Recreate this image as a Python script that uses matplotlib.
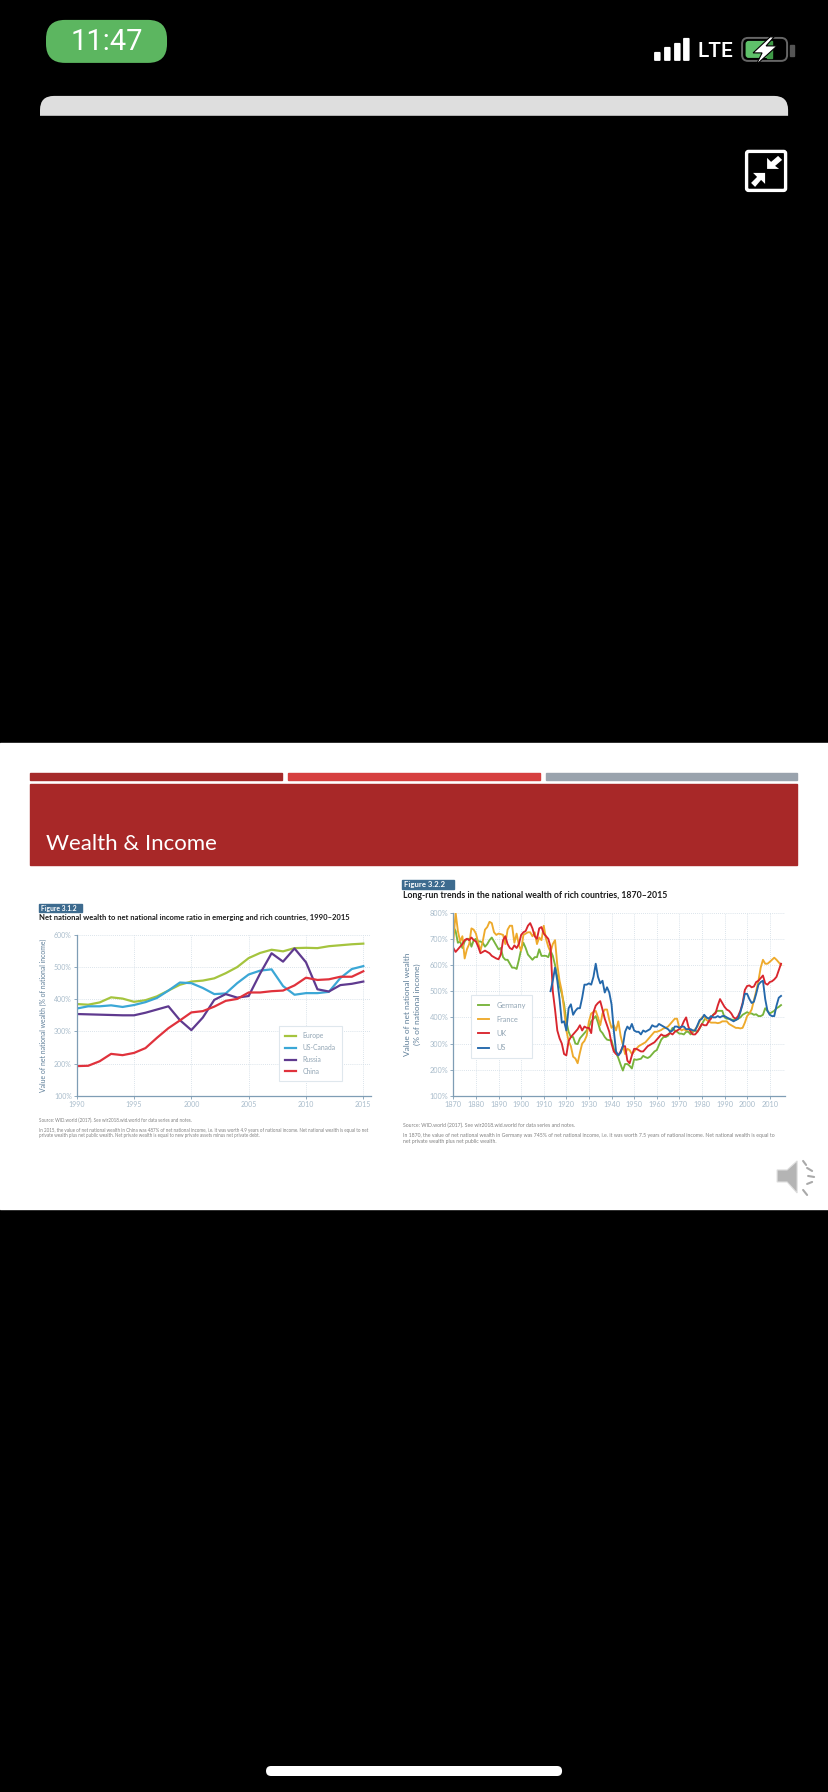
"""Phone screenshot of a slide with two wealth-to-income charts."""

from __future__ import annotations

import matplotlib

matplotlib.use("Agg")

import matplotlib.pyplot as plt  # noqa: E402
from matplotlib.patches import FancyBboxPatch, Polygon, Rectangle  # noqa: E402

W, H = 828, 1792

YEARS_A = list(range(1990, 2016))
EUROPE = [385, 383, 390, 406, 402, 392, 397, 409, 427, 445, 455, 458, 465,
          481, 500, 528, 544, 554, 549, 559, 560, 559, 565, 568, 571, 573]
US_CANADA = [371, 378, 378, 381, 376, 382, 391, 404, 427, 452, 450, 435, 416,
             418, 450, 477, 489, 493, 441, 414, 419, 419, 423, 466, 494, 503]
RUSSIA = [354, 353, 352, 351, 350, 350, 358, 368, 378, 335, 304, 343, 398,
          416, 405, 410, 480, 543, 517, 558, 515, 431, 424, 444, 448, 455]
CHINA = [192, 193, 207, 230, 226, 233, 248, 280, 310, 334, 359, 363, 377,
         395, 401, 421, 421, 425, 427, 443, 467, 460, 462, 470, 470, 487]

YEARS_B = list(range(1870, 2016))
YEARS_US = list(range(1913, 2016))
GERMANY = [745, 730, 685, 690, 665, 690, 700, 700, 670, 695,
           700, 690, 690, 685, 670, 680, 695, 705, 690, 675,
           660, 665, 630, 620, 620, 605, 590, 590, 585, 620,
           660, 685, 665, 640, 630, 620, 630, 630, 660, 635,
           635, 635, 630, 655, 635, 600, 555, 520, 490, 450,
           385, 345, 325, 325, 300, 298, 320, 330, 340, 350,
           365, 385, 395, 405, 380, 350, 340, 325, 315, 313,
           312, 280, 265, 245, 220, 197, 222, 222, 215, 205,
           240, 238, 240, 242, 253, 248, 245, 250, 260, 270,
           275, 295, 315, 325, 325, 330, 345, 360, 350, 345,
           338, 338, 335, 345, 345, 335, 345, 350, 345, 358,
           375, 390, 400, 395, 400, 410, 420, 425, 425, 425,
           400, 395, 395, 392, 390, 390, 395, 400, 410, 415,
           420, 415, 415, 410, 412, 405, 405, 410, 435, 425,
           415, 420, 425, 435, 440, 447]
FRANCE = [690, 800, 730, 690, 710, 625, 660, 680, 740, 735,
          720, 685, 655, 690, 735, 745, 765, 760, 725, 715,
          720, 718, 715, 680, 735, 750, 750, 685, 720, 675,
          655, 715, 720, 725, 725, 710, 725, 680, 705, 695,
          750, 700, 670, 650, 680, 695, 600, 540, 500, 430,
          350, 310, 290, 250, 243, 225, 265, 300, 310, 330,
          385, 415, 420, 425, 400, 370, 415, 430, 430, 390,
          360, 370, 350, 385, 330, 295, 260, 280, 275, 260,
          270, 280, 290, 295, 300, 305, 315, 325, 335, 345,
          345, 348, 352, 358, 360, 365, 375, 385, 395, 395,
          360, 350, 355, 350, 355, 350, 345, 355, 365, 385,
          400, 405, 390, 385, 380, 380, 380, 378, 380, 385,
          385, 385, 375, 370, 365, 360, 360, 358, 360, 380,
          405, 415, 430, 465, 500, 540, 590, 620, 605, 605,
          612, 620, 628, 620, 610, 600]
UK = [665, 650, 660, 670, 680, 695, 700, 695, 705, 695,
      690, 670, 645, 650, 655, 650, 645, 635, 630, 625,
      622, 640, 695, 710, 680, 665, 660, 675, 665, 680,
      715, 725, 730, 750, 760, 740, 710, 700, 740, 745,
      720, 710, 700, 670, 500, 430, 350, 320, 300, 260,
      255, 310, 325, 335, 345, 355, 370, 350, 365, 360,
      360, 340, 420, 445, 455, 462, 430, 395, 370, 345,
      300, 270, 260, 255, 270, 290, 290, 235, 225, 255,
      280, 280, 275, 270, 270, 280, 290, 295, 300, 305,
      315, 325, 335, 330, 330, 335, 340, 335, 345, 350,
      355, 365, 385, 400, 365, 345, 335, 335, 345, 360,
      375, 370, 370, 385, 395, 410, 415, 445, 470, 455,
      440, 430, 425, 415, 400, 395, 405, 425, 455, 505,
      520, 522, 515, 518, 535, 540, 550, 560, 530, 525,
      535, 538, 545, 555, 580, 605]
US = [500, 540, 590, 540, 470, 380, 385,
      350, 435, 450, 410, 425, 435, 435, 475, 525, 525,
      530, 525, 555, 605, 555, 530, 540, 495, 515, 495,
      450, 350, 270, 255, 265, 290, 345, 365, 355, 375,
      350, 345, 345, 335, 350, 345, 350, 355, 370, 365,
      365, 375, 370, 365, 360, 355, 345, 350, 365, 365,
      360, 365, 365, 355, 355, 355, 350, 350, 370, 390,
      395, 410, 400, 395, 405, 400, 400, 405, 400, 405,
      405, 400, 395, 390, 385, 390, 395, 420, 450, 490,
      490, 470, 455, 460, 490, 525, 535, 540, 470, 425,
      410, 405, 405, 445, 475, 482]

TICKS_A = [1990, 1995, 2000, 2005, 2010, 2015]
TICKS_B = list(range(1870, 2011, 10))
PCT_A = [100, 200, 300, 400, 500, 600]
PCT_B = [100, 200, 300, 400, 500, 600, 700, 800]

AXIS = "#7f9db5"
TICK_TEXT = "#a9bccb"
GRID = "#cfdbe4"
LABEL = "#5f7f99"
LEGEND_TEXT = "#93a6b5"
NOTE = "#808080"
FONT = "Lato"


def chart_axes(fig, left, right, top, bottom):
    return fig.add_axes([left / W, 1 - bottom / H, (right - left) / W, (bottom - top) / H],
                        facecolor="none", zorder=2)


def style_chart(ax, xticks, yticks, size):
    for side in ("top", "right"):
        ax.spines[side].set_visible(False)
    for side in ("left", "bottom"):
        ax.spines[side].set_color(AXIS)
        ax.spines[side].set_linewidth(0.9)
    ax.set_xticks(xticks)
    ax.set_yticks(yticks)
    ax.set_yticklabels([f"{v}%" for v in yticks])
    ax.tick_params(axis="both", length=2, width=0.6, color=AXIS, labelcolor=TICK_TEXT,
                   labelsize=size, pad=1.5)
    for label in ax.get_xticklabels() + ax.get_yticklabels():
        label.set_family(FONT)
    ax.grid(True, color=GRID, linewidth=0.6, linestyle=(0, (1, 1.5)))
    ax.set_axisbelow(True)


def add_legend(ax, anchor, size, spacing, handle):
    leg = ax.legend(loc="upper left", bbox_to_anchor=(anchor[0] / W, 1 - anchor[1] / H),
                    bbox_transform=ax.figure.transFigure, frameon=True, fancybox=False,
                    framealpha=1, edgecolor="#dfe7ed", prop={"family": FONT, "size": size},
                    labelcolor=LEGEND_TEXT, labelspacing=spacing, handlelength=handle,
                    handletextpad=1.0, borderpad=0.9, borderaxespad=0)
    leg.get_frame().set_linewidth(0.8)


def draw_phone_chrome(bg):
    bg.add_patch(Rectangle((0, 743), W, 466, color="white"))

    # status bar
    bg.add_patch(FancyBboxPatch((46, 20), 121, 43, boxstyle="round,pad=0,rounding_size=19",
                                fc="#5cb660", ec="none"))
    bg.text(106.5, 42, "11:47", color="white", fontsize=21, family="Roboto",
            ha="center", va="center")
    for x0, top in zip((654, 664, 674, 683), (52, 47, 43, 38)):
        bg.add_patch(FancyBboxPatch((x0, top), 6.5, 61 - top,
                                    boxstyle="round,pad=0,rounding_size=1", fc="white", ec="none"))
    bg.text(715.5, 51, "LTE", color="white", fontsize=15, family="Roboto", fontweight="medium",
            ha="center", va="center")
    bg.add_patch(FancyBboxPatch((742, 38), 45, 23, boxstyle="round,pad=0,rounding_size=6",
                                fc="black", ec="#666666", lw=1.4))
    bg.add_patch(FancyBboxPatch((745.5, 41), 24, 17, boxstyle="round,pad=0,rounding_size=3",
                                fc="#5fc16a", ec="none"))
    bg.add_patch(Rectangle((767, 41), 5, 17, color="#3f9a47"))
    bg.add_patch(Rectangle((790, 45), 4, 11, color="#555555"))
    bg.add_patch(Polygon([(770, 37), (753, 53), (762, 53), (756, 65), (777, 46), (766, 46), (774, 37)],
                         closed=True, fc="white", ec="black", lw=0.8))

    # browser strip
    bg.add_patch(FancyBboxPatch((40, 96), 748, 40, boxstyle="round,pad=0,rounding_size=14",
                                fc="#dedede", ec="none"))
    bg.add_patch(Rectangle((30, 116), 770, 30, color="black"))

    # collapse icon
    bg.add_patch(FancyBboxPatch((746.5, 151.5), 39, 39, boxstyle="round,pad=0,rounding_size=2",
                                fc="black", ec="white", lw=2.4))
    bg.add_patch(Polygon([(767, 169), (767, 158), (771, 162), (778, 156), (782, 160), (775, 166),
                          (779, 169)], closed=True, fc="white", ec="none"))
    bg.add_patch(Polygon([(765, 173), (765, 184), (761, 180), (755, 187), (751, 183), (757, 177),
                          (753, 173)], closed=True, fc="white", ec="none"))

    # home indicator
    bg.add_patch(FancyBboxPatch((266, 1766), 296, 10, boxstyle="round,pad=0,rounding_size=5",
                                fc="white", ec="none"))


def draw_slide_header(bg):
    bg.add_patch(Rectangle((30, 773.5), 252, 7, color="#a52a2a"))
    bg.add_patch(Rectangle((288, 773.5), 252, 7, color="#d63f3f"))
    bg.add_patch(Rectangle((546, 773.5), 251, 7, color="#9aa3ad"))
    bg.add_patch(Rectangle((30, 784.5), 767, 81, color="#a82828"))
    bg.text(46, 850, "Wealth & Income", color="white", fontsize=16, family="Lato",
            ha="left", va="baseline")


def draw_speaker(bg):
    bg.add_patch(Polygon([(777, 1170), (787, 1170), (797, 1161), (797, 1193), (787, 1182), (777, 1182)],
                         closed=True, fc="#b4b4b4", ec="#dddddd", lw=0.8))
    rays = [((803, 1161), (806, 1165)), ((807, 1168), (812, 1171)), ((808, 1176), (814, 1177)),
            ((807, 1184), (812, 1182)), ((803, 1190), (807, 1195))]
    for (x0, y0), (x1, y1) in rays:
        bg.plot([x0, x1], [y0, y1], color="#a9a9a9", lw=1.5, solid_capstyle="round")


def draw_left_chart(fig, bg):
    bg.add_patch(Rectangle((39, 904), 43, 8.5, color="#3d6b8f"))
    bg.text(41, 908.4, "Figure 3.1.2", color="white", fontsize=4.9, family=FONT,
            fontweight="bold", va="center")
    bg.text(39, 917.7, "Net national wealth to net national income ratio in emerging and rich "
            "countries, 1990–2015", color="#1c1c1c", fontsize=5.47, family=FONT,
            fontweight="bold", va="center")

    ax = chart_axes(fig, 76.7, 370.7, 935, 1095.7)
    ax.plot(YEARS_A, EUROPE, color="#a5c43e", lw=1.6, label="Europe")
    ax.plot(YEARS_A, US_CANADA, color="#3ba7d6", lw=1.6, label="US-Canada")
    ax.plot(YEARS_A, RUSSIA, color="#5f3a8f", lw=1.6, label="Russia")
    ax.plot(YEARS_A, CHINA, color="#e0323c", lw=1.6, label="China")
    ax.set_xlim(1990, 2015.65)
    ax.set_ylim(100, 600)
    style_chart(ax, TICKS_A, PCT_A, 5.0)
    add_legend(ax, (279, 1026), 4.9, 0.72, 1.6)

    bg.text(43, 1015, "Value of net national wealth (% of national income)", color=LABEL,
            fontsize=4.95, family=FONT, rotation=90, ha="center", va="center")
    bg.text(39, 1120, "Source: WID.world (2017). See wir2018.wid.world for data series and notes.",
            color=NOTE, fontsize=3.25, family=FONT, va="center")
    bg.text(39, 1130, "In 2015, the value of net national wealth in China was 487% of net national "
            "income, i.e. it was worth 4.9 years of national income. Net national wealth is equal to net",
            color=NOTE, fontsize=3.25, family=FONT, va="center")
    bg.text(39, 1135, "private wealth plus net public wealth. Net private wealth is equal to new "
            "private assets minus net private debt.", color=NOTE, fontsize=3.25, family=FONT, va="center")


def draw_right_chart(fig, bg):
    bg.add_patch(Rectangle((402, 880), 52, 9.5, color="#3d6b8f"))
    bg.text(404, 884.8, "Figure 3.2.2", color="white", fontsize=5.6, family=FONT,
            fontweight="bold", va="center")
    bg.text(403, 895, "Long-run trends in the national wealth of rich countries, 1870–2015",
            color="#1c1c1c", fontsize=6.3, family=FONT, fontweight="bold", va="center")

    ax = chart_axes(fig, 453.3, 785, 912.7, 1096)
    ax.plot(YEARS_B, GERMANY, color="#78b43c", lw=1.35, label="Germany")
    ax.plot(YEARS_B, FRANCE, color="#eeaa2c", lw=1.35, label="France")
    ax.plot(YEARS_B, UK, color="#d9262e", lw=1.35, label="UK")
    ax.plot(YEARS_US, US, color="#2468ab", lw=1.35, label="US")
    ax.set_xlim(1870, 2016.8)
    ax.set_ylim(100, 800)
    style_chart(ax, TICKS_B, PCT_B, 5.3)
    add_legend(ax, (471, 995), 5.3, 0.98, 1.55)

    bg.text(407, 1004, "Value of net national wealth", color=LABEL, fontsize=6.0, family=FONT,
            rotation=90, ha="center", va="center")
    bg.text(417, 1004, "(% of national income)", color=LABEL, fontsize=6.0, family=FONT,
            rotation=90, ha="center", va="center")
    bg.text(403, 1125, "Source: WID.world (2017). See wir2018.wid.world for data series and notes.",
            color=NOTE, fontsize=3.73, family=FONT, va="center")
    bg.text(403, 1135, "In 1870, the value of net national wealth in Germany was 745% of net national "
            "income, i.e. it was worth 7.5 years of national income. Net national wealth is equal to",
            color=NOTE, fontsize=3.73, family=FONT, va="center")
    bg.text(403, 1141, "net private wealth plus net public wealth.", color=NOTE, fontsize=3.73,
            family=FONT, va="center")


def main() -> int:
    # small nudge so the pixel width does not round down to 827
    fig = plt.figure(figsize=((W + 0.1) / 100, (H + 0.1) / 100), dpi=100, facecolor="black")
    bg = fig.add_axes([0, 0, 1, 1], zorder=1)
    bg.set_xlim(0, W)
    bg.set_ylim(H, 0)
    bg.axis("off")

    draw_phone_chrome(bg)
    draw_slide_header(bg)
    draw_left_chart(fig, bg)
    draw_right_chart(fig, bg)
    draw_speaker(bg)

    fig.savefig("out.png", dpi=100, facecolor="black")
    plt.close(fig)
    return 0


if __name__ == "__main__":
    raise SystemExit(main())
